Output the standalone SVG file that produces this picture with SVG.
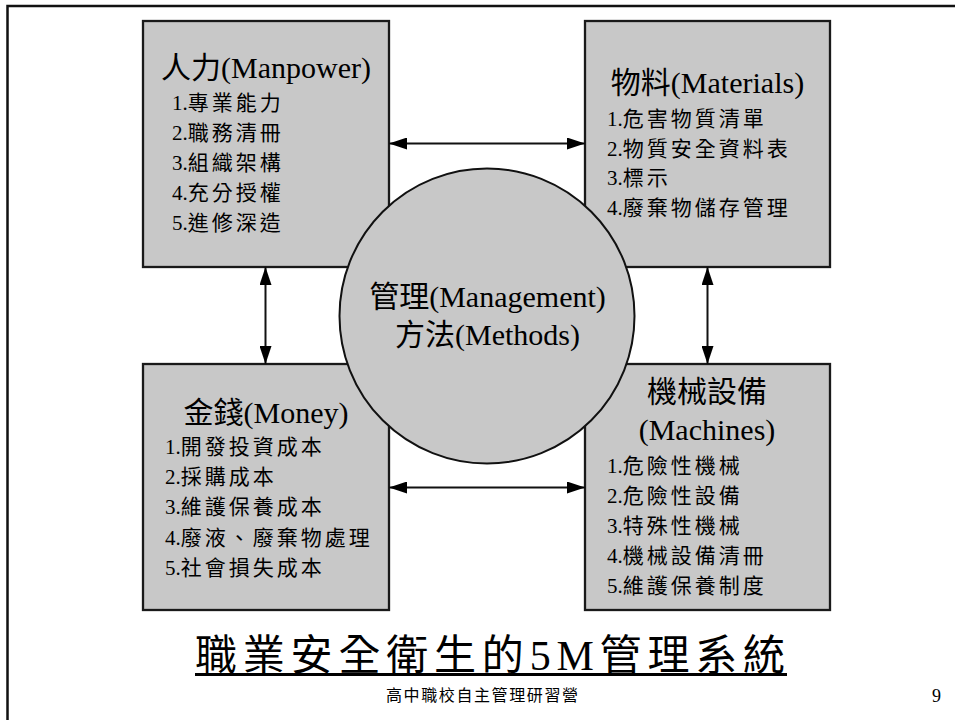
<svg xmlns="http://www.w3.org/2000/svg" width="955" height="720" viewBox="0 0 955 720">
<style>
text{font-family:'Liberation Serif','Noto Sans CJK TC',serif;fill:#000}
.box{fill:#c8c8c8;stroke:#1a1a1a;stroke-width:2.3}
.circ{fill:#c8c8c8;stroke:#111;stroke-width:2}
.ttl{font-size:30px;text-anchor:middle}
.itm{font-size:21px}
.cj{letter-spacing:3px}
.con{stroke:#111;stroke-width:2;fill:none;marker-start:url(#ah);marker-end:url(#ah)}
</style>
<defs>
<marker id="ah" viewBox="0 0 18 12" refX="18" refY="6" markerWidth="18" markerHeight="12" markerUnits="userSpaceOnUse" orient="auto-start-reverse">
<path d="M0,0 L18,6 L0,12 z" fill="#000"/>
</marker>
</defs>
<rect x="7.5" y="6" width="1000" height="800" fill="#fff" stroke="#111" stroke-width="2.5"/>

<g id="manpower">
<rect class="box" x="143" y="21" width="246" height="246"/>
<text class="ttl" x="266" y="78">人力(Manpower)</text>
<text class="itm" x="172" y="110">1.<tspan class="cj">專業能力</tspan></text>
<text class="itm" x="172" y="140">2.<tspan class="cj">職務清冊</tspan></text>
<text class="itm" x="172" y="170">3.<tspan class="cj">組織架構</tspan></text>
<text class="itm" x="172" y="200">4.<tspan class="cj">充分授權</tspan></text>
<text class="itm" x="172" y="230">5.<tspan class="cj">進修深造</tspan></text>
</g>

<g id="materials">
<rect class="box" x="585" y="21" width="245" height="246"/>
<text class="ttl" x="707.5" y="93">物料(Materials)</text>
<text class="itm" x="607" y="126">1.<tspan class="cj">危害物質清單</tspan></text>
<text class="itm" x="607" y="156">2.<tspan class="cj">物質安全資料表</tspan></text>
<text class="itm" x="607" y="185">3.<tspan class="cj">標示</tspan></text>
<text class="itm" x="607" y="215">4.<tspan class="cj">廢棄物儲存管理</tspan></text>
</g>

<g id="money">
<rect class="box" x="143" y="364" width="246" height="246"/>
<text class="ttl" x="266" y="423">金錢(Money)</text>
<text class="itm" x="165" y="454">1.<tspan class="cj">開發投資成本</tspan></text>
<text class="itm" x="165" y="484">2.<tspan class="cj">採購成本</tspan></text>
<text class="itm" x="165" y="514">3.<tspan class="cj">維護保養成本</tspan></text>
<text class="itm" x="165" y="545">4.<tspan class="cj">廢液、廢棄物處理</tspan></text>
<text class="itm" x="165" y="575">5.<tspan class="cj">社會損失成本</tspan></text>
</g>

<g id="machines">
<rect class="box" x="585" y="364" width="245" height="246"/>
<text class="ttl" x="707" y="402">機械設備</text>
<text class="ttl" x="707" y="440">(Machines)</text>
<text class="itm" x="607" y="473">1.<tspan class="cj">危險性機械</tspan></text>
<text class="itm" x="607" y="503">2.<tspan class="cj">危險性設備</tspan></text>
<text class="itm" x="607" y="533">3.<tspan class="cj">特殊性機械</tspan></text>
<text class="itm" x="607" y="563">4.<tspan class="cj">機械設備清冊</tspan></text>
<text class="itm" x="607" y="593">5.<tspan class="cj">維護保養制度</tspan></text>
</g>

<g id="connectors">
<line class="con" x1="389" y1="143.5" x2="585" y2="143.5"/>
<line class="con" x1="389" y1="487.5" x2="585" y2="487.5"/>
<line class="con" x1="265.5" y1="267" x2="265.5" y2="364"/>
<line class="con" x1="707.5" y1="267" x2="707.5" y2="364"/>
</g>

<g id="management">
<circle class="circ" cx="487" cy="316" r="147.5"/>
<text class="ttl" x="487.5" y="307">管理(Management)</text>
<text class="ttl" x="487.5" y="345">方法(Methods)</text>
</g>

<g id="title">
<text x="195" y="670" font-size="42" textLength="590" lengthAdjust="spacing">職業安全衛生的5M管理系統</text>
<line x1="195" y1="674.5" x2="787" y2="674.5" stroke="#000" stroke-width="3"/>
</g>
<text x="386" y="701" font-size="16" textLength="192" lengthAdjust="spacing">高中職校自主管理研習營</text>
<text x="932" y="702" font-size="18">9</text>
</svg>
